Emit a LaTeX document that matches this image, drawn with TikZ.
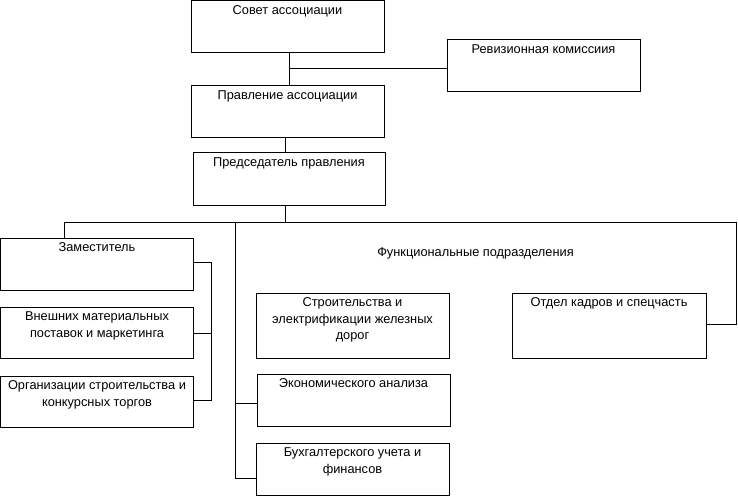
\documentclass[tikz,border=0pt]{standalone}
\usepackage{fontspec}
\setmainfont{Liberation Sans}
\tikzset{
	unitbox/.style={draw,line width=1pt,minimum width=193pt,minimum height=52pt,inner sep=0pt},
	boxtext/.style={anchor=north,align=center,inner sep=0pt,yshift=-5pt,font=\fontsize{12.8}{16.5}\selectfont}
}

\begin{document}
\begin{tikzpicture}[x=1pt,y=-1pt,line width=1pt]
				\useasboundingbox (0,0) rectangle (738,497);
				\node[unitbox,label={[boxtext]north:Совет ассоциации}] (sovet) at (287.5,26.5) {};
				\node[unitbox,label={[boxtext]north:Ревизионная комиссиия}] (reviz) at (543.5,66) {};
				\node[unitbox,label={[boxtext]north:Правление ассоциации}] (pravl) at (287.5,112) {};
				\node[unitbox,minimum width=192pt,label={[boxtext]north:Председатель правления}] (pred) at (289,179) {};
				\node[unitbox,label={[boxtext]north:Заместитель}] (zam) at (97,264) {};
				\node[unitbox,minimum height=51pt,label={[boxtext]north:Внешних материальных\\поставок и маркетинга}] (vnesh) at (97,332.5) {};
				\node[unitbox,minimum height=51pt,label={[boxtext]north:Организации строительства и\\конкурсных торгов}] (org) at (97,401.5) {};
				\node[unitbox,minimum height=65pt,label={[boxtext]north:Строительства и\\электрификации железных\\дорог}] (stroi) at (352.5,325.5) {};
				\node[unitbox,label={[boxtext]north:Экономического анализа}] (econ) at (353.5,400) {};
				\node[unitbox,label={[boxtext]north:Бухгалтерского учета и\\финансов}] (buh) at (352.5,469) {};
				\node[unitbox,minimum width=194pt,minimum height=65pt,label={[boxtext]north:Отдел кадров и спецчасть}] (kadry) at (609,325.5) {};
				\node[font=\fontsize{12.8}{16.5}\selectfont] (funk) at (475.5,253) {Функциональные подразделения};

				\draw (sovet.south-|289,0) -- (pravl.north-|289,0);
				\draw (289,69) -- (reviz.west|-0,69);
				\draw (pravl.south-|285,0) -- (pred.north-|285,0);
				\draw (pred.south-|285,0) -- (285,222);
				\draw (zam.north-|64,0) |- (736,222) |- (kadry.east|-0,324);
				\draw (235,222) |- (buh.west|-0,478);
				\draw (235,403) -- (econ.west|-0,403);
				\draw (zam.east|-0,262) -| (211,400) -- (org.east|-0,400);
				\draw (vnesh.east|-0,333) -- (211,333);
\end{tikzpicture}
\end{document}
